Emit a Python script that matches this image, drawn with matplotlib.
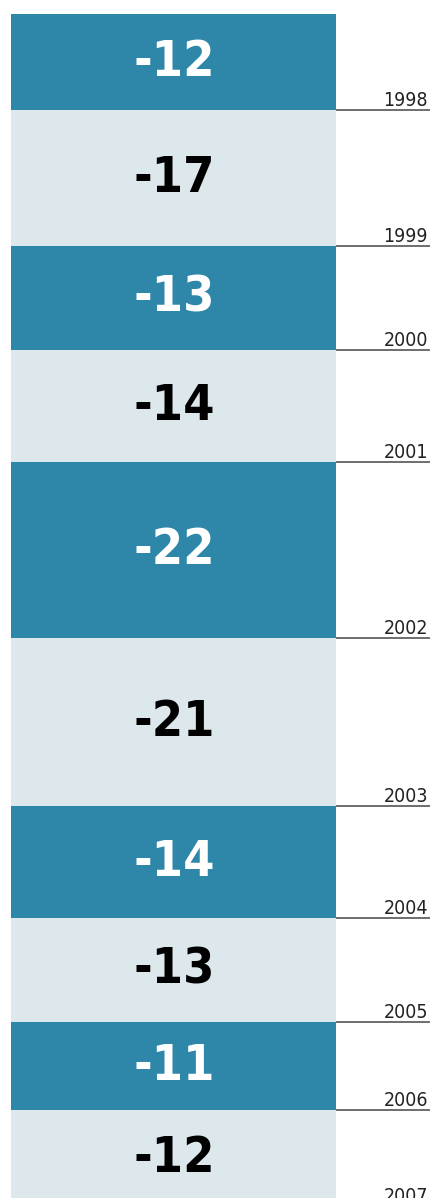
import matplotlib
matplotlib.use("Agg")
import matplotlib.pyplot as plt
import numpy as np

years = ["1998", "1999", "2000", "2001", "2002", "2003", "2004", "2005", "2006", "2007"]
values = [-12, -17, -13, -14, -22, -21, -14, -13, -11, -12]

DARK = "#2e86a8"
LIGHT = "#dde8ec"
PX_PER_UNIT = 8  # vertical pixels per unit of value

fig = plt.figure(figsize=(4.31, 11.98), dpi=100)
ax = fig.add_axes([0, 0, 1, 1])

heights = np.abs(values)
bottoms = np.concatenate([[0], np.cumsum(heights)[:-1]])
colors = [DARK if i % 2 == 0 else LIGHT for i in range(len(values))]

# blocks stacked downward, height proportional to the value
ax.bar(173.5, heights, bottom=bottoms, width=325, color=colors, edgecolor="none")

for i, (yr, v) in enumerate(zip(years, values)):
    top = bottoms[i]
    end = top + heights[i]
    mid = top + heights[i] / 2
    ax.text(174, mid, str(v), ha="center", va="center",
            fontsize=36, fontweight="bold", fontstretch="condensed",
            family="DejaVu Sans",
            color="white" if i % 2 == 0 else "black")
    ax.plot([336, 431], [end, end], color="#555555", lw=1.2, solid_capstyle="butt")
    ax.text(428, end - 0.45, yr, ha="right", va="baseline",
            fontsize=14, fontstretch="condensed", family="DejaVu Sans",
            color="#222222")

ax.set_xlim(0, 431)
ax.set_ylim((1198 - 14) / PX_PER_UNIT, -14 / PX_PER_UNIT)
ax.axis("off")

fig.savefig("out.png", dpi=100)
